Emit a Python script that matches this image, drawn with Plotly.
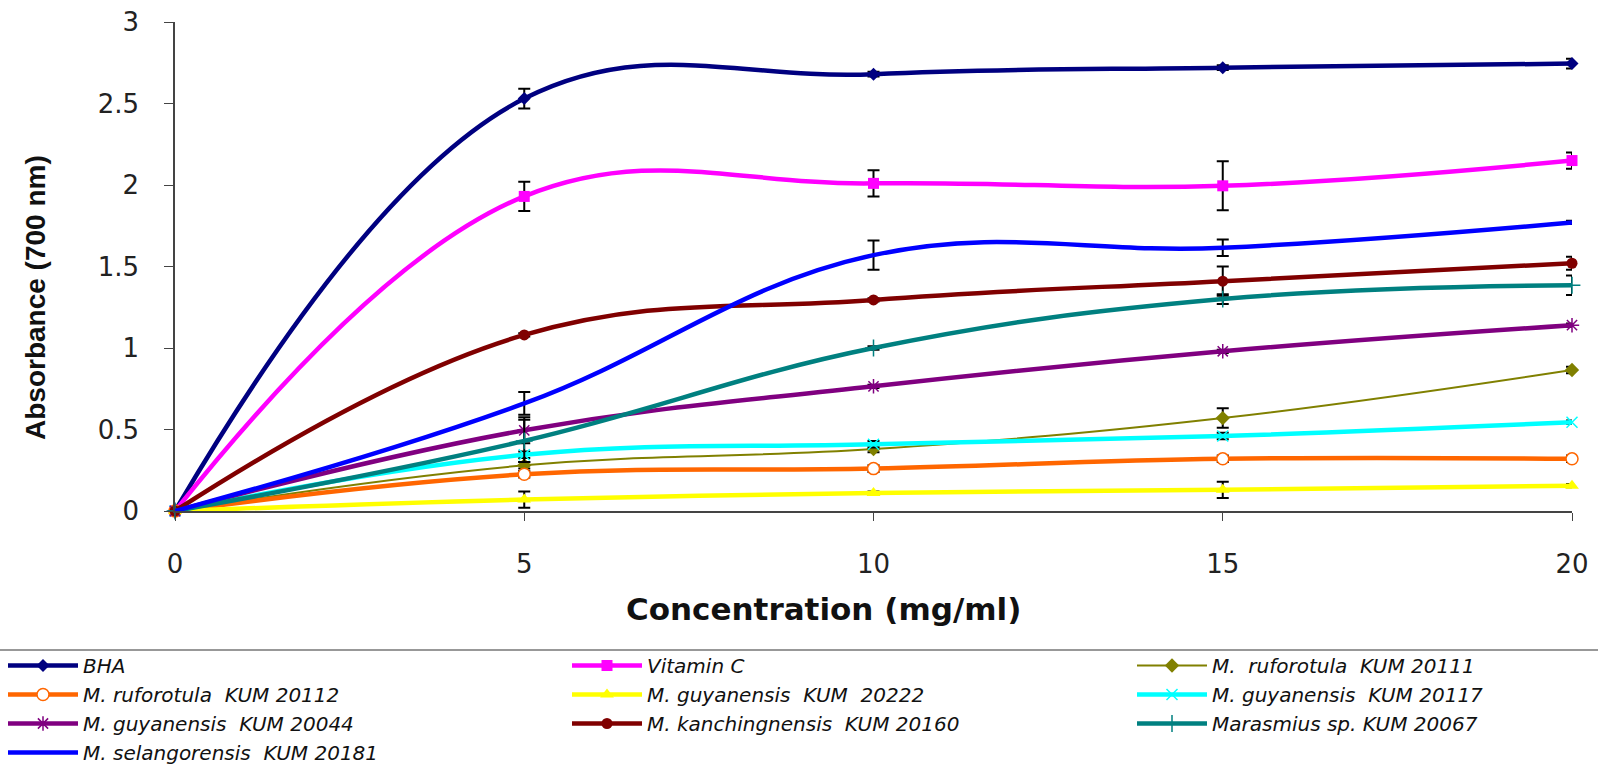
import plotly.graph_objects as go

conc = [0, 5, 10, 15, 20]
names = ["BHA", "Vitamin C", "M.  ruforotula  KUM 20111", "M. ruforotula  KUM 20112",
         "M. guyanensis  KUM  20222", "M. guyanensis  KUM 20117", "M. guyanensis  KUM 20044",
         "M. kanchingnensis  KUM 20160", "Marasmius sp. KUM 20067", "M. selangorensis  KUM 20181"]

bha = [0, 2.53, 2.68, 2.72, 2.745]
vitc = [0, 1.93, 2.01, 1.995, 2.15]
rufo_20111 = [0, 0.28, 0.38, 0.57, 0.865]
rufo_20112 = [0, 0.225, 0.26, 0.32, 0.32]
guy_20222 = [0, 0.07, 0.11, 0.13, 0.155]
guy_20117 = [0, 0.345, 0.41, 0.46, 0.545]
guy_20044 = [0, 0.495, 0.765, 0.98, 1.14]
kanch_20160 = [0, 1.08, 1.295, 1.41, 1.52]
maras_20067 = [0, 0.43, 1.0, 1.30, 1.385]
selang_20181 = [0, 0.66, 1.57, 1.615, 1.77]

err_bha = [0, 0.06, 0.015, 0.015, 0.03]
err_vitc = [0, 0.09, 0.08, 0.15, 0.05]
err_rufo_20111 = [0, 0.02, 0.02, 0.06, 0.02]
err_rufo_20112 = [0, 0.02, 0.02, 0.02, 0.02]
err_guy_20222 = [0, 0.05, 0.01, 0.05, 0.01]
err_guy_20117 = [0, 0.02, 0.02, 0.02, 0.01]
err_guy_20044 = [0, 0.08, 0.01, 0.01, 0.01]
err_kanch_20160 = [0, 0.01, 0.01, 0.09, 0.04]
err_maras_20067 = [0, 0.13, 0.01, 0.03, 0.06]
err_selang_20181 = [0, 0.07, 0.09, 0.05, 0.01]

series = [bha, vitc, rufo_20111, rufo_20112, guy_20222, guy_20117, guy_20044,
          kanch_20160, maras_20067, selang_20181]
errors = [err_bha, err_vitc, err_rufo_20111, err_rufo_20112, err_guy_20222, err_guy_20117,
          err_guy_20044, err_kanch_20160, err_maras_20067, err_selang_20181]

colors = ["#000080", "#FF00FF", "#808000", "#FF6600", "#FFFF00", "#00FFFF",
          "#800080", "#800000", "#008080", "#0000FF"]
widths = [4.5, 4.5, 2, 4.5, 4.5, 4.5, 4.5, 4.5, 4.5, 4.5]
markers = [
    dict(symbol="diamond", size=10),
    dict(symbol="square", size=11),
    dict(symbol="diamond", size=11),
    dict(symbol="circle", size=12, color="white", line=dict(color="#FF6600", width=1.5)),
    dict(symbol="triangle-up", size=12),
    dict(symbol="x-thin", size=11, line=dict(color="#00FFFF", width=1.5)),
    dict(symbol="asterisk", size=12, line=dict(color="#800080", width=1.5)),
    dict(symbol="circle", size=11),
    dict(symbol="cross-thin", size=12, line=dict(color="#008080", width=1.5)),
    dict(symbol="circle", size=1, opacity=0),
]
legend_col = ["legend", "legend2", "legend3", "legend", "legend2", "legend3",
              "legend", "legend2", "legend3", "legend"]

fig = go.Figure()
for n, ys, es, c, w, m, lg in zip(names, series, errors, colors, widths, markers, legend_col):
    mk = dict(m)
    if "color" not in mk:
        mk["color"] = c
    fig.add_trace(go.Scatter(
        x=conc, y=ys, name=n, mode="lines+markers", legend=lg,
        line=dict(color=c, width=w, shape="spline", smoothing=1.15),
        marker=mk,
        error_y=dict(type="data", array=es, color="black", thickness=2, width=6, visible=True),
        cliponaxis=False,
    ))

L, R, T, B = 175, 26, 22, 255
W, H = 1598, 766
pw = W - L - R
ph = H - T - B


def px_x(v):
    return (v - L) / pw


def px_y(v):
    return (H - B - v) / ph


leg_font = dict(size=20, style="italic", color="#111111", family="DejaVu Sans, sans-serif")
leg_common = dict(orientation="v", xanchor="left", yanchor="top", itemwidth=70,
                  font=leg_font, bgcolor="rgba(0,0,0,0)", traceorder="normal",
                  tracegroupgap=0)

fig.update_layout(
    width=W, height=H,
    margin=dict(l=L, r=R, t=T, b=B, autoexpand=False),
    paper_bgcolor="white", plot_bgcolor="white",
    font=dict(family="DejaVu Sans, sans-serif", color="#222222"),
    showlegend=True,
    legend=dict(x=px_x(3), y=px_y(646), **leg_common),
    legend2=dict(x=px_x(567), y=px_y(646), **leg_common),
    legend3=dict(x=px_x(1132), y=px_y(646), **leg_common),
    xaxis=dict(
        range=[0, 20], tickvals=conc, showgrid=False, zeroline=False,
        showline=True, linecolor="#444444", linewidth=1.5,
        ticks="outside", ticklen=8, tickcolor="#444444",
        tickfont=dict(size=26, color="#222222"), ticklabelstandoff=21,
    ),
    yaxis=dict(
        range=[0, 3], dtick=0.5, showgrid=False, zeroline=False,
        showline=True, linecolor="#444444", linewidth=1.5,
        ticks="outside", ticklen=9, tickcolor="#444444",
        tickfont=dict(size=26, color="#222222"), ticklabelstandoff=20,
    ),
    shapes=[dict(type="line", xref="paper", yref="paper",
                 x0=px_x(0), x1=px_x(W), y0=px_y(650), y1=px_y(650),
                 line=dict(color="#333333", width=1.2))],
    annotations=[
        dict(text="<b>Concentration (mg/ml)</b>", xref="paper", yref="paper",
             x=px_x(823), y=px_y(609), xanchor="center", yanchor="middle",
             showarrow=False, font=dict(size=31, color="#111111", family="DejaVu Sans, sans-serif")),
        dict(text="<b>Absorbance (700 nm)</b>", xref="paper", yref="paper",
             x=px_x(35), y=px_y(298), xanchor="center", yanchor="middle",
             textangle=-90, showarrow=False,
             font=dict(size=28, family="Liberation Sans, Arial, sans-serif", color="#111111")),
    ],
)

fig.write_html("out.html", config={"displayModeBar": False},
               post_script="document.body.style.margin='0px';")
